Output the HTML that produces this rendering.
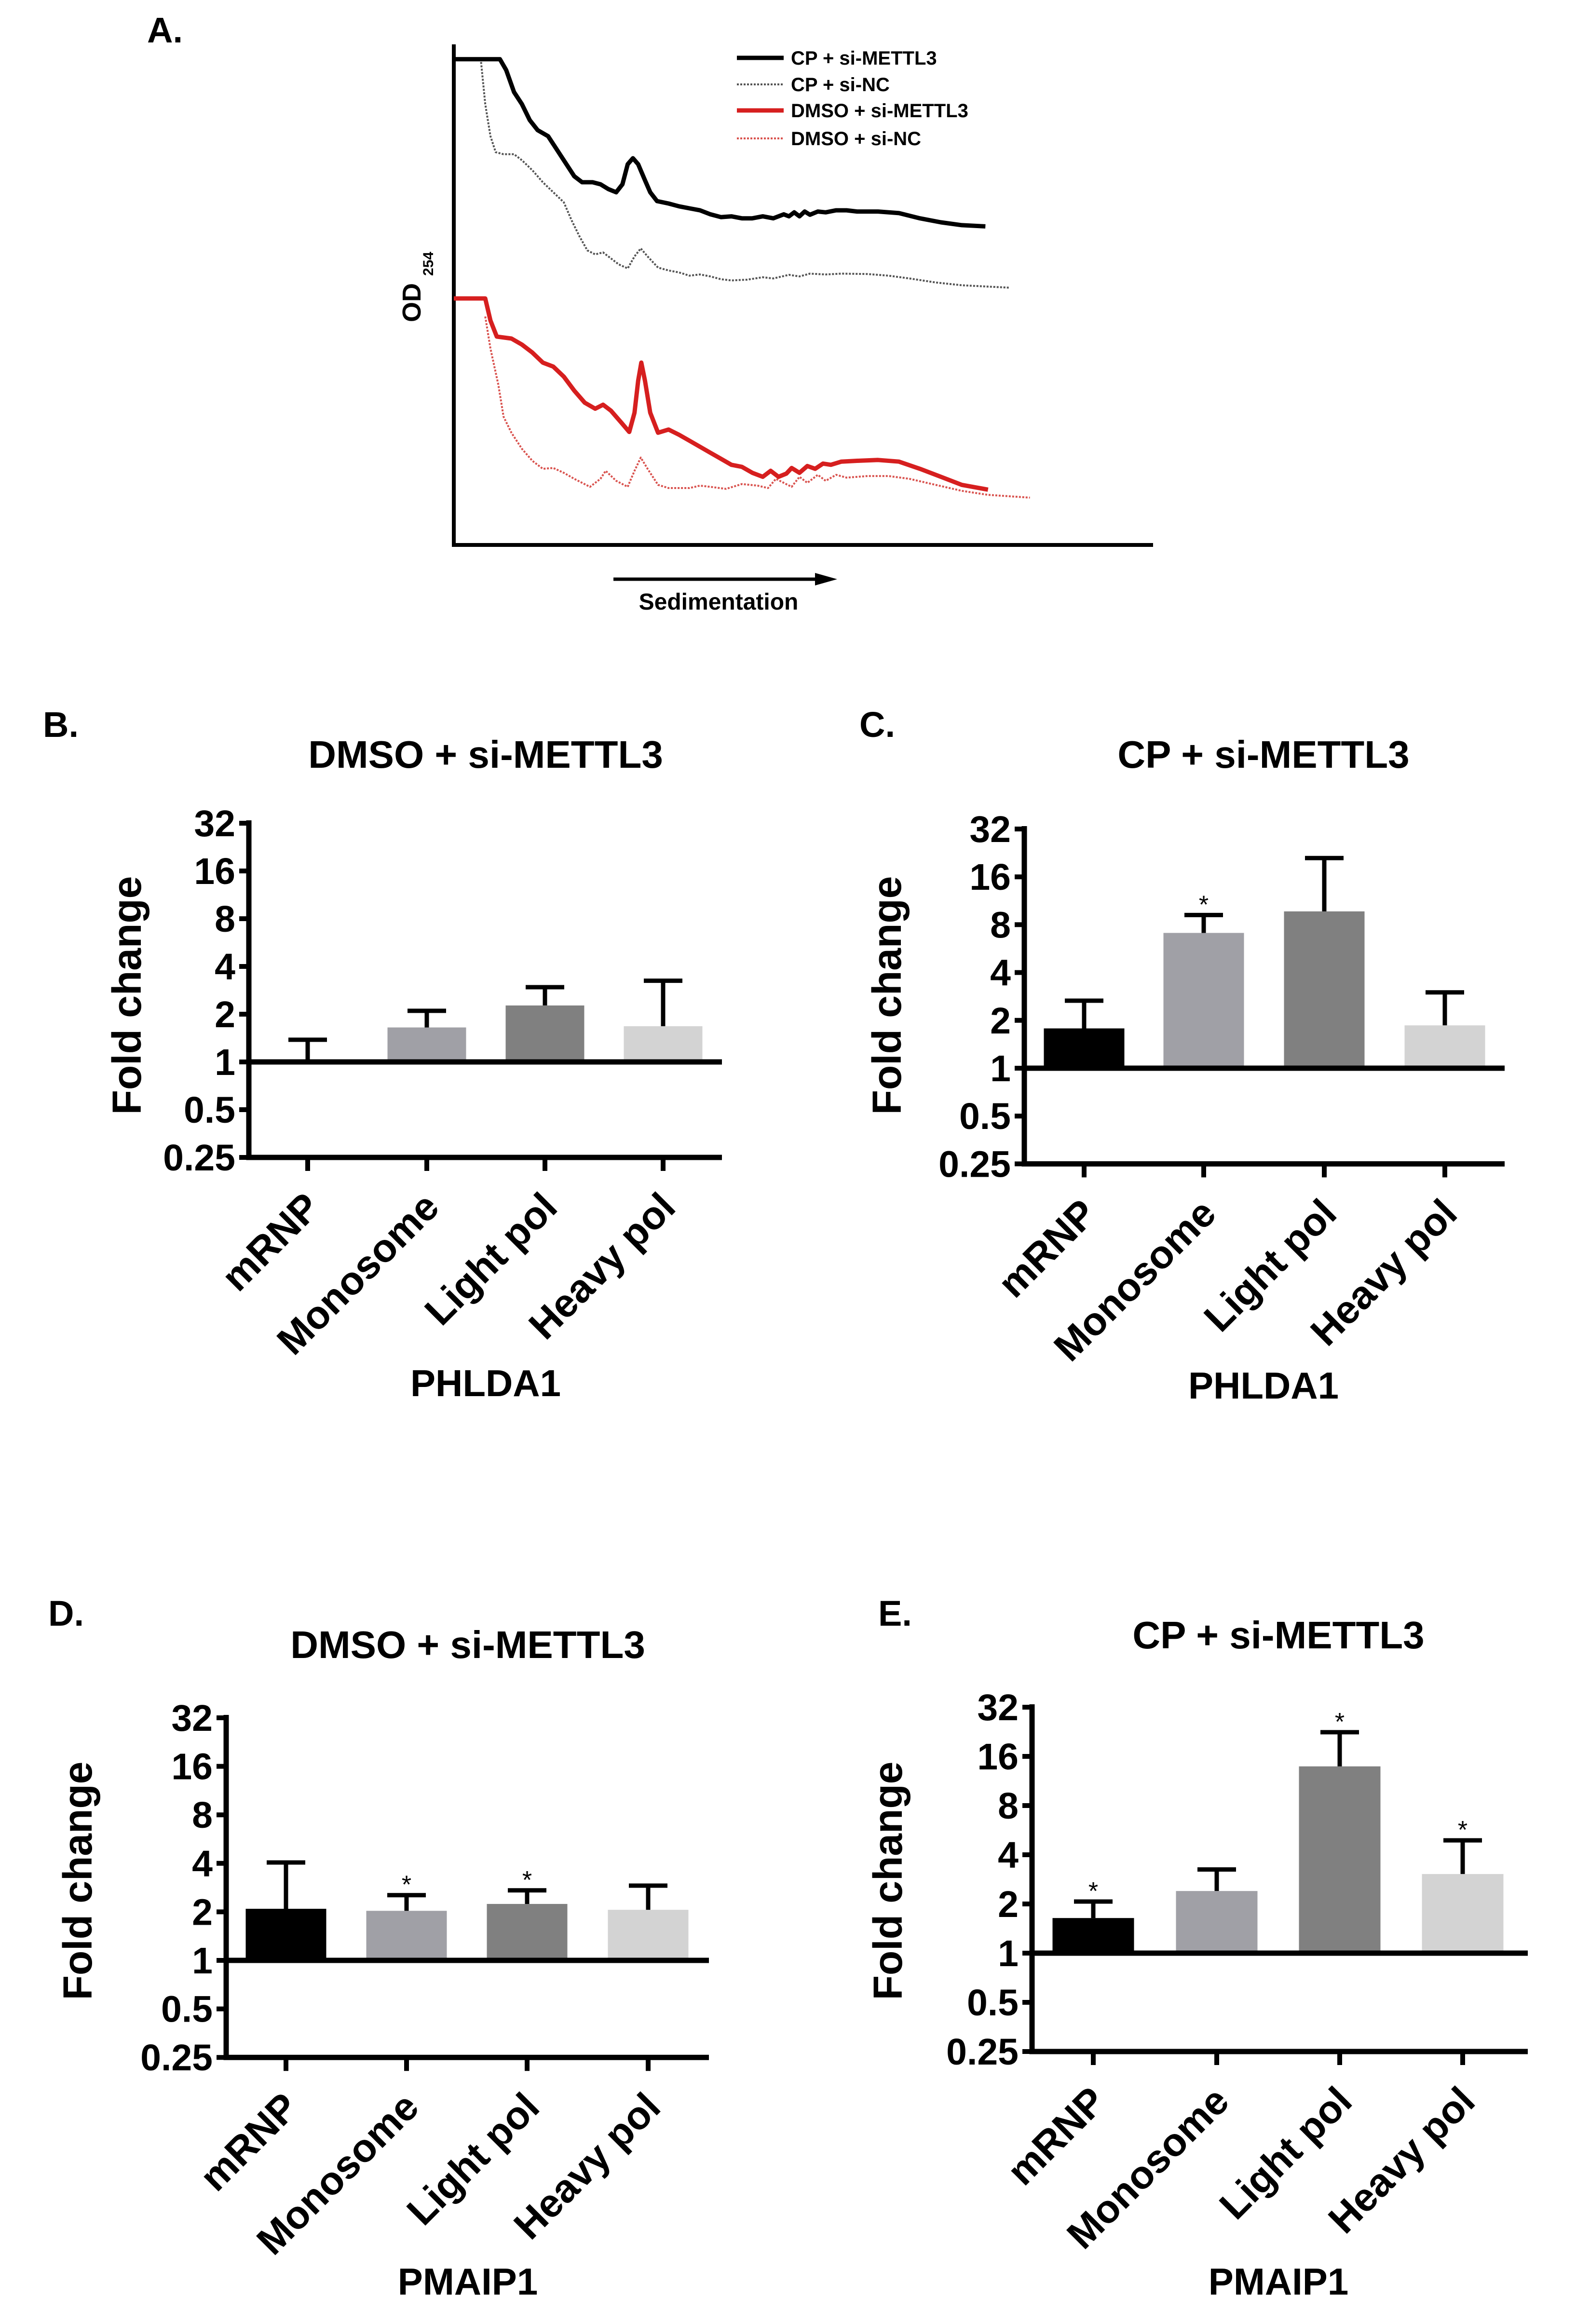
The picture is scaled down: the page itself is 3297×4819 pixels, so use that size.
<!DOCTYPE html>
<html><head><meta charset="utf-8"><style>
html,body{margin:0;padding:0;background:#fff}
svg{display:block;font-family:"Liberation Sans",Arial,sans-serif;font-weight:bold}
</style></head><body>
<svg id="fig" width="3297" height="4819" viewBox="0 0 3297 4819" xmlns="http://www.w3.org/2000/svg">
<rect width="3297" height="4819" fill="#fff"/>
<g id="panelA"></g>
<g id="bars"></g>
</svg>
<script>
// ---------- Panel A data (sedimentation units, OD units) ----------
const cpMettlX = [0,88,100,115,130,145,160,180,195,215,230,245,265,280,295,310,322,332,342,352,365,375,388,410,430,450,470,490,510,530,550,570,590,610,630,640,650,660,670,680,695,710,730,750,770,810,850,890,930,970,1015];
const cpMettlY = [1212,1212,1185,1130,1100,1060,1035,1020,990,950,920,905,905,900,888,880,900,950,965,950,910,880,858,852,845,840,835,825,818,820,815,815,820,815,825,820,830,820,832,824,832,830,835,835,832,832,828,815,805,798,795];
const cpNcX = [52,60,70,80,95,115,130,150,170,190,210,225,240,255,270,285,300,315,332,345,357,370,390,410,430,450,470,490,510,530,560,590,610,640,660,680,710,740,790,830,870,920,970,1060];
const cpNcY = [1205,1100,1020,980,975,975,960,935,905,880,855,810,770,735,725,730,715,700,690,720,740,720,692,685,680,672,675,670,663,660,662,668,665,674,670,677,675,677,676,672,665,655,648,642];
const dmsoMettlX = [0,60,70,82,110,130,150,170,190,210,230,250,270,285,300,320,335,345,352,358,365,375,390,410,430,450,470,490,510,530,550,570,590,605,620,635,645,660,675,690,705,720,740,770,810,850,890,930,970,1020];
const dmsoMettlY = [615,615,560,520,515,500,480,455,445,420,385,355,340,350,335,305,282,330,410,455,410,330,280,288,275,260,245,230,215,200,195,180,170,185,170,178,192,180,197,190,203,200,208,210,212,208,190,170,150,138];
const dmsoNcX = [60,70,85,95,110,130,150,170,190,210,230,260,280,290,310,332,345,357,370,390,410,450,470,490,520,550,580,600,615,630,645,660,675,695,710,730,750,790,830,870,920,970,1020,1100];
const dmsoNcY = [570,490,400,320,280,240,210,190,192,180,165,145,165,185,160,145,185,218,190,150,142,142,148,145,140,152,148,142,165,155,145,170,155,175,160,175,168,172,172,165,150,135,125,118];
const legendLabels = ["CP + si-METTL3","CP + si-NC","DMSO + si-METTL3","DMSO + si-NC"];

// ---------- Bar panel data ----------
const categories = ["mRNP","Monosome","Light pol","Heavy pol"];
const yTicks = [32,16,8,4,2,1,0.5,0.25];
const yTickLabels = ["32","16","8","4","2","1","0.5","0.25"];
const valsB = [1.0,1.65,2.27,1.68];
const errB  = [1.38,2.1,2.96,3.25];
const starB = [0,0,0,0];
const valsC = [1.78,7.1,9.7,1.86];
const errC  = [2.66,9.2,21,3.0];
const starC = [0,1,0,0];
const valsD = [2.09,2.03,2.24,2.06];
const errD  = [4.05,2.54,2.72,2.91];
const starD = [0,1,1,0];
const valsE = [1.64,2.4,13.9,3.05];
const errE  = [2.07,3.25,22.5,4.9];
const starE = [1,0,1,1];

const NS = "http://www.w3.org/2000/svg";
function mk(parent, tag, attrs, text){
  const e = document.createElementNS(NS, tag);
  for (const k in attrs) e.setAttribute(k, attrs[k]);
  if (text !== undefined) e.textContent = text;
  parent.appendChild(e);
  return e;
}

// ---------- Panel A ----------
(function(){
  const g = document.getElementById('panelA');
  const xA = v => 941 + v*1.086;
  const yA = v => 1130 - v*0.831;
  let t = mk(g,'text',{x:305,y:88,'font-size':74});
  t.textContent = 'A.';
  
  
  let ax = mk(g,'path',{d:'M941 92 V1130 H2391',fill:'none',stroke:'#000','stroke-width':8});
  
  
  const series = [
    [cpMettlX,cpMettlY,'#000',9,null,'line-cp-si-mettl3'],
    [cpNcX,cpNcY,'#555',4,'4 3','line-cp-si-nc'],
    [dmsoMettlX,dmsoMettlY,'#d61f1f',9,null,'line-dmso-si-mettl3'],
    [dmsoNcX,dmsoNcY,'#d9534f',4,'4 3','line-dmso-si-nc']
  ];
  series.forEach(s=>{
    const d = s[0].map((x,i)=>(i?'L':'M')+xA(x).toFixed(1)+' '+yA(s[1][i]).toFixed(1)).join(' ');
    const p = mk(g,'path',{d:d,fill:'none',stroke:s[2],'stroke-width':s[3],'stroke-linejoin':'round'});
    if (s[4]) p.setAttribute('stroke-dasharray', s[4]);
    
    
  });
  const ly = [120,175,229,287];
  legendLabels.forEach((lab,i)=>{
    const s = series[i];
    const l = mk(g,'line',{x1:1528,x2:1625,y1:ly[i],y2:ly[i],stroke:s[2],'stroke-width':s[3]});
    if (s[4]) l.setAttribute('stroke-dasharray', s[4]);
    
    
    const tx = mk(g,'text',{x:1640,y:ly[i]+14,'font-size':40},lab);
    
    
  });
  const od = mk(g,'text',{transform:'translate(872,668) rotate(-90)','font-size':54});
  
  
  mk(od,'tspan',{},'OD ');
  mk(od,'tspan',{'font-size':30,dy:26},'254');
  const ar = mk(g,'path',{d:'M1272 1201 H1700',stroke:'#000','stroke-width':7});
  
  
  const ah = mk(g,'path',{d:'M1690 1188 L1736 1201 L1690 1214 Z',fill:'#000'});
  
  
  const st = mk(g,'text',{x:1490,y:1264,'font-size':48,'text-anchor':'middle'},'Sedimentation');
  
  
})();

// ---------- Bar panels ----------
const colors = ['#000','#a0a0a6','#808080','#d3d3d3'];
function barPanel(cfg, vals, errs, stars){
  const g = mk(document.getElementById('bars'),'g',{});
  
  
  const dbl = (cfg.y1 - cfg.y32)/5;
  const y = v => cfg.y1 - Math.log2(v)*dbl;
  const yBot = y(0.25);
  let e;
  e = mk(g,'text',{x:cfg.lx,y:cfg.ly+26,'font-size':74,'text-anchor':'middle'},cfg.letter);
  
  
  e = mk(g,'text',{x:cfg.tx,y:cfg.ty+28,'font-size':80,'text-anchor':'middle'},cfg.title);
  
  
  e = mk(g,'text',{transform:`translate(${cfg.fx+30},${cfg.fy}) rotate(-90)`,'font-size':84,'text-anchor':'middle'},'Fold change');
  
  
  e = mk(g,'text',{x:cfg.tx,y:cfg.gy+28,'font-size':78,'text-anchor':'middle'},cfg.gene);
  
  
  vals.forEach((v,i)=>{
    const cx = cfg.cx[i], w = cfg.bw;
    const top = y(v);
    const b = mk(g,'rect',{x:cx-w/2,y:top,width:w,height:Math.max(0,cfg.y1-top),fill:colors[i]});
    
    
    const ye = y(errs[i]);
    const eb = mk(g,'path',{d:`M${cx} ${top} V${ye} M${cx-40} ${ye} H${cx+40}`,stroke:'#000','stroke-width':9,fill:'none'});
    
    
    if (stars[i]){
      const s = mk(g,'text',{x:cx,y:ye-4,'font-size':52,'text-anchor':'middle','font-weight':'normal'},'*');
      
      
    }
    const tk = mk(g,'line',{x1:cx,x2:cx,y1:yBot,y2:yBot+28,stroke:'#000','stroke-width':10});
    
    
    const lb = mk(g,'text',{transform:`translate(${cx+30},${yBot+108}) rotate(-45)`,'font-size':82,'text-anchor':'end'},categories[i]);
    
    
  });
  e = mk(g,'path',{d:`M${cfg.ax} ${cfg.y32-6} V${yBot} H${cfg.right}`,stroke:'#000','stroke-width':11,fill:'none'});
  
  
  e = mk(g,'line',{x1:cfg.ax,x2:cfg.right,y1:cfg.y1,y2:cfg.y1,stroke:'#000','stroke-width':11});
  
  
  yTicks.forEach((v,i)=>{
    const yy = y(v);
    const t = mk(g,'line',{x1:cfg.ax-20,x2:cfg.ax,y1:yy,y2:yy,stroke:'#000','stroke-width':10});
    
    
    const l = mk(g,'text',{x:cfg.ax-28,y:yy+27,'font-size':77,'text-anchor':'end'},yTickLabels[i]);
    
    
  });
}
barPanel({name:'panel-b',letter:'B.',lx:126,ly:1502,title:'DMSO + si-METTL3',tx:1007,ty:1564,gene:'PHLDA1',gy:2867,
  fx:262,fy:2064,ax:516,y32:1707,y1:2202,right:1497,cx:[638,885,1130,1375],bw:163}, valsB, errB, starB);
barPanel({name:'panel-c',letter:'C.',lx:1819,ly:1502,title:'CP + si-METTL3',tx:2620,ty:1564,gene:'PHLDA1',gy:2872,
  fx:1838,fy:2064,ax:2124,y32:1719,y1:2215,right:3120,cx:[2248,2496,2746,2996],bw:167}, valsC, errC, starC);
barPanel({name:'panel-d',letter:'D.',lx:137,ly:3345,title:'DMSO + si-METTL3',tx:970,ty:3410,gene:'PMAIP1',gy:4730,
  fx:160,fy:3900,ax:469,y32:3562,y1:4065,right:1470,cx:[593,843,1093,1344],bw:167}, valsD, errD, starD);
barPanel({name:'panel-e',letter:'E.',lx:1856,ly:3345,title:'CP + si-METTL3',tx:2651,ty:3390,gene:'PMAIP1',gy:4730,
  fx:1840,fy:3900,ax:2140,y32:3540,y1:4050,right:3168,cx:[2267,2523,2778,3033],bw:169}, valsE, errE, starE);
</script>
</body></html>
